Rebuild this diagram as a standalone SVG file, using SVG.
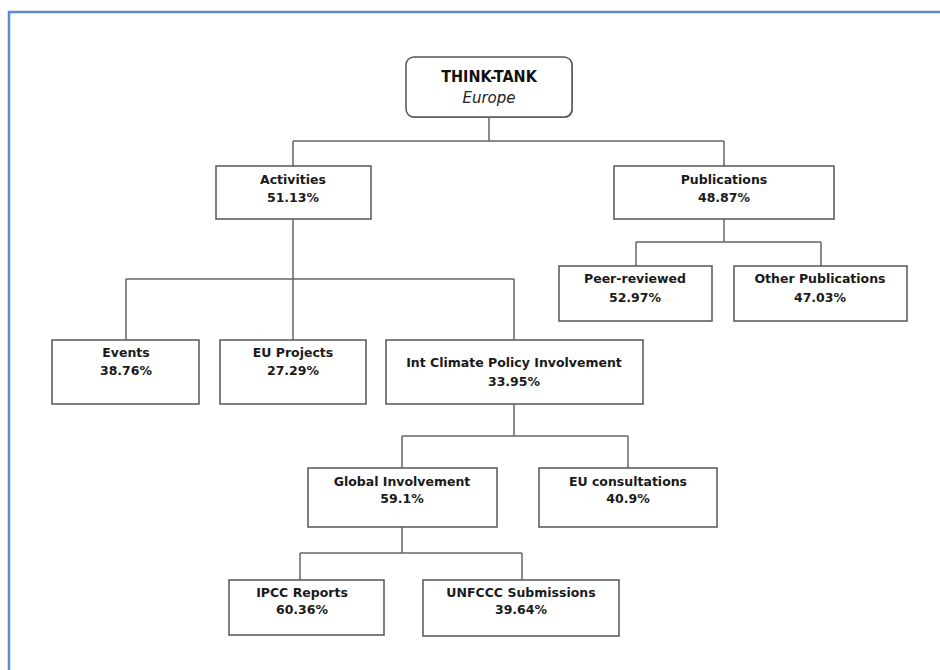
<svg xmlns="http://www.w3.org/2000/svg" width="940" height="670" viewBox="0 0 940 670">
<style>
.bg{fill:#ffffff}
.frame{fill:none;stroke:#5b8bd0;stroke-width:2.5}
.box{fill:#ffffff;stroke:#555555;stroke-width:1.5}
.conn{fill:none;stroke:#666666;stroke-width:1.5}
.t{font-family:"DejaVu Sans","Liberation Sans",sans-serif;font-size:12.5px;font-weight:bold;fill:#1a1a1a;text-anchor:middle}
.title{font-family:"DejaVu Sans Condensed","DejaVu Sans",sans-serif;font-size:16px;font-weight:bold;fill:#111111;text-anchor:middle}
.sub{font-family:"DejaVu Sans","Liberation Sans",sans-serif;font-size:15px;font-style:italic;fill:#222222;text-anchor:middle}
</style>
<rect class="bg" x="0" y="0" width="940" height="670"/>
<rect class="frame" x="9" y="12" width="940" height="670"/>
<g id="connectors">
<path class="conn" d="M489 117V141M293 141H724M293 141V166M724 141V166"/>
<path class="conn" d="M724 219V242M636 242H821M636 242V266M821 242V266"/>
<path class="conn" d="M293 219V340M126 279H514M126 279V340M514 279V340"/>
<path class="conn" d="M514 404V436M402 436H628M402 436V468M628 436V468"/>
<path class="conn" d="M402 527V553M300 553H522M300 553V580M522 553V580"/>
</g>
<g id="root">
<rect x="407" y="58" width="166" height="60" rx="8" fill="#888888"/>
<rect class="box" x="406" y="57" width="166" height="60" rx="8"/>
<text class="title" x="489" y="82">THINK-TANK</text>
<text class="sub" x="489" y="103">Europe</text>
</g>
<g id="activities">
<rect class="box" x="216" y="166" width="155" height="53"/>
<text class="t" x="293" y="184">Activities</text>
<text class="t" x="293" y="202">51.13%</text>
</g>
<g id="publications">
<rect class="box" x="614" y="166" width="220" height="53"/>
<text class="t" x="724" y="184">Publications</text>
<text class="t" x="724" y="202">48.87%</text>
</g>
<g id="peer-reviewed">
<rect class="box" x="559" y="266" width="153" height="55"/>
<text class="t" x="635" y="283">Peer-reviewed</text>
<text class="t" x="635" y="302">52.97%</text>
</g>
<g id="other-publications">
<rect class="box" x="734" y="266" width="173" height="55"/>
<text class="t" x="820" y="283">Other Publications</text>
<text class="t" x="820" y="302">47.03%</text>
</g>
<g id="events">
<rect class="box" x="52" y="340" width="147" height="64"/>
<text class="t" x="126" y="357">Events</text>
<text class="t" x="126" y="375">38.76%</text>
</g>
<g id="eu-projects">
<rect class="box" x="220" y="340" width="146" height="64"/>
<text class="t" x="293" y="357">EU Projects</text>
<text class="t" x="293" y="375">27.29%</text>
</g>
<g id="int-climate">
<rect class="box" x="386" y="340" width="257" height="64"/>
<text class="t" x="514" y="367">Int Climate Policy Involvement</text>
<text class="t" x="514" y="386">33.95%</text>
</g>
<g id="global-involvement">
<rect class="box" x="308" y="468" width="189" height="59"/>
<text class="t" x="402" y="486">Global Involvement</text>
<text class="t" x="402" y="503">59.1%</text>
</g>
<g id="eu-consultations">
<rect class="box" x="539" y="468" width="178" height="59"/>
<text class="t" x="628" y="486">EU consultations</text>
<text class="t" x="628" y="503">40.9%</text>
</g>
<g id="ipcc-reports">
<rect class="box" x="229" y="580" width="155" height="55"/>
<text class="t" x="302" y="597">IPCC Reports</text>
<text class="t" x="302" y="614">60.36%</text>
</g>
<g id="unfccc-submissions">
<rect class="box" x="423" y="580" width="196" height="56"/>
<text class="t" x="521" y="597">UNFCCC Submissions</text>
<text class="t" x="521" y="614">39.64%</text>
</g>
</svg>
